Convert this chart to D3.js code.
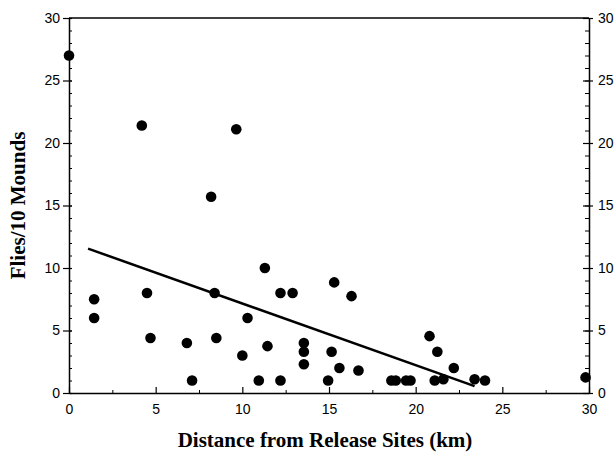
<!DOCTYPE html>
<html>
<head>
<meta charset="utf-8">
<script src="https://cdn.jsdelivr.net/npm/d3@7"></script>
<style>
  html, body { margin: 0; padding: 0; background: #fff; }
  svg { display: block; }
</style>
</head>
<body>
<svg id="chart" width="616" height="452"></svg>
<script>
// ---- data ----
const distanceKm = [0, 1.45, 1.45, 4.2, 4.5, 4.7, 6.8, 7.1, 8.2, 8.4, 8.5, 9.65, 10.0, 10.3, 10.95, 11.3, 11.45, 12.2, 12.2, 12.9, 13.55, 13.55, 13.55, 14.95, 15.15, 15.3, 15.6, 16.3, 16.7, 18.6, 18.85, 19.45, 19.7, 20.8, 21.1, 21.25, 21.6, 22.2, 23.4, 24.0, 29.8];
const fliesPer10 = [27, 7.5, 6.0, 21.4, 8.0, 4.4, 4.0, 1.0, 15.7, 8.0, 4.4, 21.1, 3.0, 6.0, 1.0, 10.0, 3.75, 8.0, 1.0, 8.0, 4.0, 3.3, 2.3, 1.0, 3.3, 8.85, 2.0, 7.75, 1.8, 1.0, 1.0, 1.0, 1.0, 4.55, 1.0, 3.3, 1.1, 2.0, 1.1, 1.0, 1.25];
const fitX = [1.1, 23.4];
const fitY = [11.55, 0.55];
const xTicks = [0, 5, 10, 15, 20, 25, 30];
const yTicks = [0, 5, 10, 15, 20, 25, 30];
const xMinorTicks = [2.5, 7.5, 12.5, 17.5, 22.5, 27.5];
const yMinorTicks = d3.range(0, 31, 1);
const xTitle = "Distance from Release Sites (km)";
const yTitle = "Flies/10 Mounds";

// ---- layout ----
const W = 616, H = 452;
const margin = { top: 18, right: 27, bottom: 59, left: 69 };
const iw = W - margin.left - margin.right;
const ih = H - margin.top - margin.bottom;

const svg = d3.select("#chart");
const g = svg.append("g").attr("transform", `translate(${margin.left},${margin.top})`);

const x = d3.scaleLinear().domain([0, 30]).range([0, iw]);
const y = d3.scaleLinear().domain([0, 30]).range([ih, 0]);

const tickFont = "'Liberation Sans', Arial, Helvetica, sans-serif";
const titleFont = "'Liberation Serif', 'Times New Roman', serif";

// Top border
g.append("line").attr("x1", 0).attr("x2", iw).attr("y1", 0).attr("y2", 0)
  .attr("stroke", "#000").attr("stroke-width", 1.5);

// Left axis minor ticks (inside)
const leftMinor = g.append("g").call(d3.axisLeft(y).tickValues(yMinorTicks).tickFormat("").tickSize(-3).tickSizeOuter(0));
leftMinor.select(".domain").remove();
leftMinor.selectAll("line").attr("stroke-width", 1);

// Left axis major
const leftAxis = g.append("g").call(d3.axisLeft(y).tickValues(yTicks).tickSize(6).tickSizeOuter(0).tickPadding(3));
leftAxis.selectAll(".tick line").attr("x1", 3).attr("x2", -6).attr("stroke-width", 1.2);
leftAxis.select(".domain").attr("stroke-width", 1.5);
leftAxis.selectAll("text").attr("font-family", tickFont).attr("font-size", 14).attr("fill", "#000");

// Right axis minor
const rightMinor = g.append("g").attr("transform", `translate(${iw},0)`)
  .call(d3.axisRight(y).tickValues(yMinorTicks).tickFormat("").tickSize(-4).tickSizeOuter(0));
rightMinor.select(".domain").remove();
rightMinor.selectAll("line").attr("stroke-width", 1);

// Right axis major
const rightAxis = g.append("g").attr("transform", `translate(${iw},0)`)
  .call(d3.axisRight(y).tickValues(yTicks).tickSize(4).tickSizeOuter(0).tickPadding(5));
rightAxis.selectAll(".tick line").attr("x1", -6).attr("x2", 4).attr("stroke-width", 1.2);
rightAxis.select(".domain").attr("stroke-width", 1.5);
rightAxis.selectAll("text").attr("font-family", tickFont).attr("font-size", 14).attr("fill", "#000");

// Bottom axis minor
const bottomMinor = g.append("g").attr("transform", `translate(0,${ih})`)
  .call(d3.axisBottom(x).tickValues(xMinorTicks).tickFormat("").tickSize(-3).tickSizeOuter(0));
bottomMinor.select(".domain").remove();
bottomMinor.selectAll("line").attr("stroke-width", 1);

// Bottom axis major
const bottomAxis = g.append("g").attr("transform", `translate(0,${ih})`)
  .call(d3.axisBottom(x).tickValues(xTicks).tickSize(-6).tickSizeOuter(0));
bottomAxis.selectAll(".tick line").attr("stroke-width", 1.2);
bottomAxis.select(".domain").attr("stroke-width", 1.5);
bottomAxis.selectAll("text").attr("font-family", tickFont).attr("font-size", 14).attr("fill", "#000")
  .attr("y", 21).attr("dy", 0);

// Regression line
const line = d3.line().x(d => x(d[0])).y(d => y(d[1]));
g.append("path").datum(d3.zip(fitX, fitY)).attr("d", line)
  .attr("fill", "none").attr("stroke", "#000").attr("stroke-width", 2.5);

// Points
g.append("g").selectAll("circle").data(d3.zip(distanceKm, fliesPer10)).join("circle")
  .attr("cx", d => x(d[0])).attr("cy", d => y(d[1])).attr("r", 5.3).attr("fill", "#000");

// Titles
svg.append("text").attr("x", margin.left + iw / 2 - 4).attr("y", 447)
  .attr("text-anchor", "middle").attr("font-family", titleFont).attr("font-weight", "bold")
  .attr("font-size", 21).attr("fill", "#000").text(xTitle);

svg.append("text").attr("transform", `translate(25,${margin.top + ih / 2}) rotate(-90)`)
  .attr("text-anchor", "middle").attr("font-family", titleFont).attr("font-weight", "bold")
  .attr("font-size", 21).attr("fill", "#000").text(yTitle);
</script>
</body>
</html>
